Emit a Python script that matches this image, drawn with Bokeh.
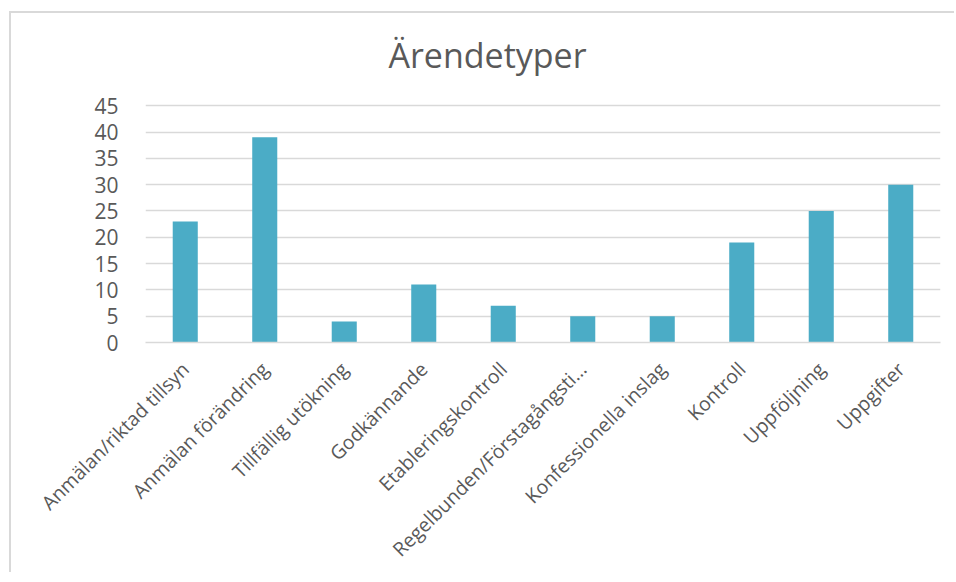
from math import pi
from bokeh.plotting import figure
from bokeh.models import ColumnDataSource, Range1d, FixedTicker, Label
from bokeh.embed import file_html
from bokeh.resources import INLINE

categories = ["Anmälan/riktad tillsyn", "Anmälan förändring", "Tillfällig utökning",
              "Godkännande", "Etableringskontroll", "Regelbunden/Förstagångsti…",
              "Konfessionella inslag", "Kontroll", "Uppföljning", "Uppgifter"]
counts = [23, 39, 4, 11, 7, 5, 5, 19, 25, 30]
y_ticks = [0, 5, 10, 15, 20, 25, 30, 35, 40, 45]
title_text = "Ärendetyper"

TEXT = "#595959"
GRID = "#d9d9d9"
BAR = "#4BACC6"
FONT = "Open Sans"

# layout (canvas pixels)
W, H = 945, 561
FRAME_TOP, FRAME_BOTTOM, AXIS_TOP = 5, 330, 92.5
y_max_tick = y_ticks[-1]
y_end = y_max_tick * (FRAME_BOTTOM - FRAME_TOP) / (FRAME_BOTTOM - AXIS_TOP)

source = ColumnDataSource(data=dict(cat=categories, n=counts))

p = figure(x_range=categories, y_range=Range1d(0, y_end), width=W, height=H,
           output_backend="svg", toolbar_location=None,
           min_border_left=134, min_border_right=16, min_border_top=FRAME_TOP,
           min_border_bottom=H - FRAME_BOTTOM)
p.margin = (11, 0, 0, 9)
p.styles = {"border-top": "2px solid #d9d9d9", "border-left": "2px solid #d9d9d9"}

p.vbar(x="cat", top="n", width=0.315, source=source, color=BAR, line_color=None)

p.add_layout(Label(x=342, y=288, x_units="screen", y_units="screen", text=title_text,
                   text_align="center", text_baseline="alphabetic",
                   text_font=FONT, text_font_size="34px", text_color=TEXT))

p.outline_line_color = None
p.background_fill_color = "white"
p.border_fill_color = "white"

p.xgrid.grid_line_color = None
p.ygrid.grid_line_color = GRID
p.ygrid.grid_line_width = 1.5
p.yaxis.ticker = FixedTicker(ticks=y_ticks)

p.yaxis.axis_line_color = None
p.yaxis.major_tick_line_color = None
p.yaxis.minor_tick_line_color = None
p.yaxis.major_label_standoff = 21
p.yaxis.major_label_text_font = FONT
p.yaxis.major_label_text_font_size = "21px"
p.yaxis.major_label_text_color = TEXT

p.xaxis.axis_line_color = GRID
p.xaxis.axis_line_width = 1.5
p.xaxis.major_tick_line_color = None
p.xaxis.minor_tick_line_color = None
p.xaxis.major_label_orientation = pi / 4
p.xaxis.major_label_standoff = 17
p.xaxis.major_label_text_font = FONT
p.xaxis.major_label_text_font_size = "19.5px"
p.xaxis.major_label_text_color = TEXT

open("out.html", "w").write(file_html(p, INLINE))
